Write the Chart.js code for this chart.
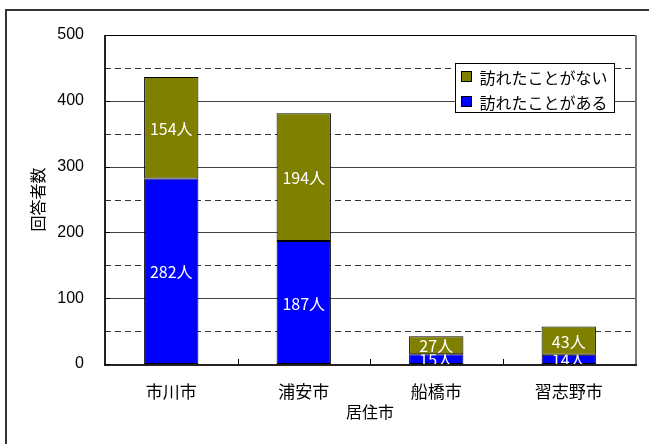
<!DOCTYPE html>
<html lang="ja">
<head>
<meta charset="UTF-8">
<title>居住市別 回答者数</title>
<style>
  body { margin: 0; background: #fff; }
  #chart-container { width: 649px; height: 444px; }
</style>
</head>
<body>
<div id="chart-container">
  <canvas id="visitChart" width="649" height="444"></canvas>
</div>

<script src="https://cdn.jsdelivr.net/npm/chart.js"></script>
<script>
// data
const cities = ['市川市', '浦安市', '船橋市', '習志野市'];
const visited = [282, 187, 15, 14];        // 訪れたことがある
const notVisited = [154, 194, 27, 43];     // 訪れたことがない
const seriesNames = ['訪れたことがある', '訪れたことがない'];
const seriesColors = ['#0000ff', '#808000'];
const solidLevels = [100, 200, 300, 400];
const dashedLevels = [50, 150, 250, 350, 450];

const jpFont = '"Noto Sans CJK JP", "Liberation Sans", sans-serif';
const numFont = '"Liberation Sans", "Noto Sans CJK JP", sans-serif';

function hLine(ctx, x1, x2, y) {
    ctx.beginPath();
    ctx.moveTo(x1, y);
    ctx.lineTo(x2, y);
    ctx.stroke();
}

// grid, frame, tick marks, bar labels and the boxed legend
const excelLook = {
    id: 'excelLook',
    beforeDatasetsDraw(chart) {
        const { ctx, chartArea: a, scales: { y } } = chart;
        ctx.save();
        ctx.lineWidth = 1;
        ctx.strokeStyle = '#444';
        solidLevels.forEach(v => hLine(ctx, a.left, a.right, Math.round(y.getPixelForValue(v)) + 0.5));
        ctx.setLineDash([6, 4]);
        ctx.strokeStyle = '#333';
        dashedLevels.forEach(v => hLine(ctx, a.left, a.right, Math.round(y.getPixelForValue(v)) + 0.5));
        ctx.restore();
    },
    afterDatasetsDraw(chart) {
        const { ctx, chartArea: a, scales: { x, y } } = chart;
        ctx.save();

        // value labels, clipped to their own bar
        ctx.font = '16px ' + jpFont;
        ctx.fillStyle = '#fff';
        ctx.textAlign = 'center';
        ctx.textBaseline = 'middle';
        chart.data.datasets.forEach((ds, i) => {
            chart.getDatasetMeta(i).data.forEach((bar, j) => {
                const p = bar.getProps(['x', 'y', 'base', 'width'], true);
                const top = Math.min(p.y, p.base), h = Math.abs(p.base - p.y);
                ctx.save();
                ctx.beginPath();
                ctx.rect(p.x - p.width / 2, top, p.width, h);
                ctx.clip();
                ctx.fillText(ds.data[j] + '人', p.x, top + h / 2 + 1);
                ctx.restore();
            });
        });

        // plot frame
        ctx.strokeStyle = '#000';
        ctx.lineWidth = 1;
        hLine(ctx, a.left, a.right, a.top + 0.5);
        ctx.strokeStyle = '#777';
        ctx.lineWidth = 2;
        ctx.beginPath();
        ctx.moveTo(a.right + 1, a.top);
        ctx.lineTo(a.right + 1, a.bottom);
        ctx.stroke();
        ctx.strokeStyle = '#222';
        ctx.beginPath();
        ctx.moveTo(a.left, a.top);
        ctx.lineTo(a.left, a.bottom + 1);
        ctx.lineTo(a.right + 2, a.bottom + 1);
        ctx.stroke();

        // inside tick marks
        ctx.lineWidth = 1;
        ctx.strokeStyle = '#000';
        [0].concat(solidLevels).forEach(v => {
            const py = Math.round(y.getPixelForValue(v)) + 0.5;
            hLine(ctx, a.left, a.left + 5, py);
        });
        for (let i = 1; i < cities.length; i++) {
            const px = Math.round((x.getPixelForValue(i - 1) + x.getPixelForValue(i)) / 2) + 0.5;
            ctx.beginPath();
            ctx.moveTo(px, a.bottom);
            ctx.lineTo(px, a.bottom - 5);
            ctx.stroke();
        }
        ctx.restore();
    },
    afterDraw(chart) {
        const { ctx, chartArea: a } = chart;
        ctx.save();

        // outer chart border (runs off the bottom/right edge)
        ctx.strokeStyle = '#333';
        ctx.lineWidth = 2;
        ctx.strokeRect(6, 10, 700, 500);

        // legend box
        const lx = a.right - 180 + 0.5, ly = a.top + 28 + 0.5, lw = 159, lh = 49;
        ctx.fillStyle = '#fff';
        ctx.fillRect(lx, ly, lw, lh);
        ctx.strokeStyle = '#000';
        ctx.lineWidth = 1;
        ctx.strokeRect(lx, ly, lw, lh);
        ctx.font = '16px ' + jpFont;
        ctx.textAlign = 'left';
        ctx.textBaseline = 'middle';
        [1, 0].forEach((s, row) => {
            const cy = ly + 13 + row * 25;
            ctx.fillStyle = seriesColors[s];
            ctx.fillRect(lx + 6, cy - 5, 10, 10);
            ctx.strokeRect(lx + 6, cy - 5, 10, 10);
            ctx.fillStyle = '#000';
            ctx.fillText(seriesNames[s], lx + 24, cy + 1);
        });
        ctx.restore();
    }
};

const ctx = document.getElementById('visitChart').getContext('2d');

const visitChart = new Chart(ctx, {
    type: 'bar',
    data: {
        labels: cities,
        datasets: [
            {
                label: seriesNames[0],
                data: visited,
                backgroundColor: seriesColors[0],
                borderColor: '#000',
                borderWidth: 1,
                borderSkipped: false,
                categoryPercentage: 1,
                barPercentage: 0.41
            },
            {
                label: seriesNames[1],
                data: notVisited,
                backgroundColor: seriesColors[1],
                borderColor: '#000',
                borderWidth: 1,
                borderSkipped: false,
                categoryPercentage: 1,
                barPercentage: 0.41
            }
        ]
    },
    options: {
        responsive: false,
        animation: false,
        layout: { padding: { left: 6, top: 35, right: 14, bottom: 0 } },
        plugins: {
            legend: { display: false },
            tooltip: { enabled: false }
        },
        scales: {
            x: {
                stacked: true,
                grid: { display: false, drawTicks: false },
                border: { display: false },
                ticks: { color: '#000', padding: 17, font: { size: 17, family: jpFont } },
                title: {
                    display: true,
                    text: '居住市',
                    color: '#000',
                    font: { size: 16, family: jpFont },
                    padding: { top: 22, bottom: 22 }
                },
                afterFit(scale) { scale.height = 80; }
            },
            y: {
                stacked: true,
                min: 0,
                max: 500,
                grid: { display: false, drawTicks: false },
                border: { display: false },
                ticks: { stepSize: 100, color: '#000', padding: 21, font: { size: 16, family: numFont } },
                title: {
                    display: true,
                    text: '回答者数',
                    color: '#000',
                    font: { size: 16, family: jpFont },
                    padding: { top: 22, bottom: 22 }
                },
                afterFit(scale) { scale.width = 99; }
            }
        }
    },
    plugins: [excelLook]
});
</script>
</body>
</html>
